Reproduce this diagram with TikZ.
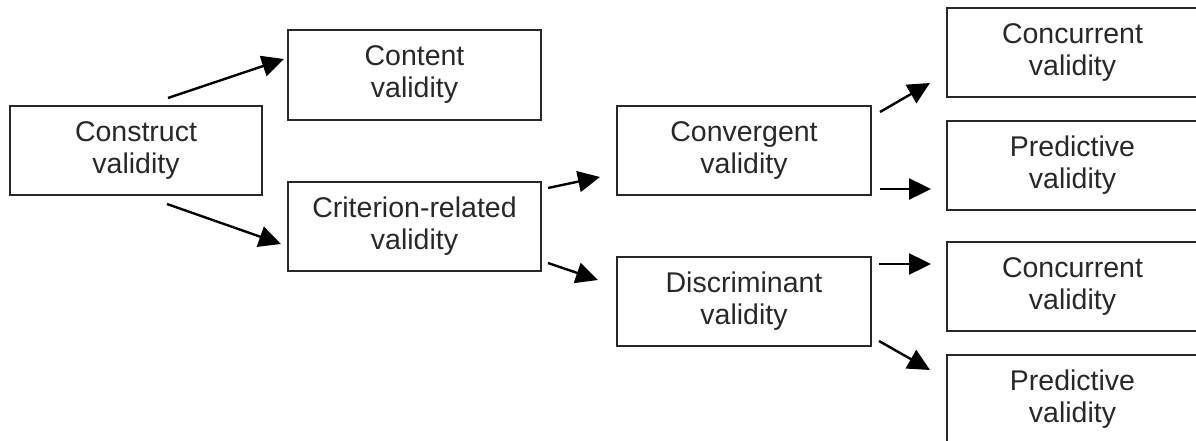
\documentclass[tikz,border=0pt]{standalone}
\usepackage{fontspec}
\setmainfont{Liberation Sans}
\usetikzlibrary{arrows.meta}
\definecolor{ink}{RGB}{40,40,40}
\begin{document}
\begin{tikzpicture}[x=1pt,y=-1pt,
  box/.style={draw=ink,line width=2.2pt,rectangle,minimum height=89pt,align=center,
    inner sep=0pt,font=\fontsize{28.5}{32}\selectfont,text=ink},
  lbox/.style={box,minimum width=252pt},
  rbox/.style={box,minimum width=251pt},
  arr/.style={draw=black,line width=2.4pt,-{Triangle[length=22pt,width=21pt]}}]
\useasboundingbox (0,0) rectangle (1196,441);
\clip (0,0) rectangle (1196,441);
\node[lbox] (construct) at (136,150.5) {Construct\\validity};
\node[lbox,minimum width=253pt,minimum height=90pt] (content) at (414.5,75) {Content\\validity};
\node[lbox,minimum width=253pt] (criterion) at (414.5,226.5) {Criterion-related\\validity};
\node[lbox,minimum width=254pt] (convergent) at (744,150.5) {Convergent\\validity};
\node[lbox,minimum width=254pt] (discriminant) at (744,301.5) {Discriminant\\validity};
\node[rbox] (conc1) at (1072.5,52.5) {Concurrent\\validity};
\node[rbox] (pred1) at (1072.5,165.5) {Predictive\\validity};
\node[rbox] (conc2) at (1072.5,286.5) {Concurrent\\validity};
\node[rbox] (pred2) at (1072.5,399.5) {Predictive\\validity};
% arrow end points
\coordinate (a1s) at (168,98);  \coordinate (a1e) at (284,59);
\coordinate (a2s) at (167,204); \coordinate (a2e) at (281,244);
\coordinate (a3s) at (548,188); \coordinate (a3e) at (600,177);
\coordinate (a4s) at (548,263); \coordinate (a4e) at (598,280);
\coordinate (a5s) at (880,112); \coordinate (a5e) at (930,83);
\coordinate (a6s) at (880,189); \coordinate (a6e) at (931,189);
\coordinate (a7s) at (879,264); \coordinate (a7e) at (931,264);
\coordinate (a8s) at (879,341); \coordinate (a8e) at (930,370);
\draw[arr] (a1s) -- (a1e);
\draw[arr] (a2s) -- (a2e);
\draw[arr] (a3s) -- (a3e);
\draw[arr] (a4s) -- (a4e);
\draw[arr] (a5s) -- (a5e);
\draw[arr] (a6s) -- (a6e);
\draw[arr] (a7s) -- (a7e);
\draw[arr] (a8s) -- (a8e);
\end{tikzpicture}
\end{document}
